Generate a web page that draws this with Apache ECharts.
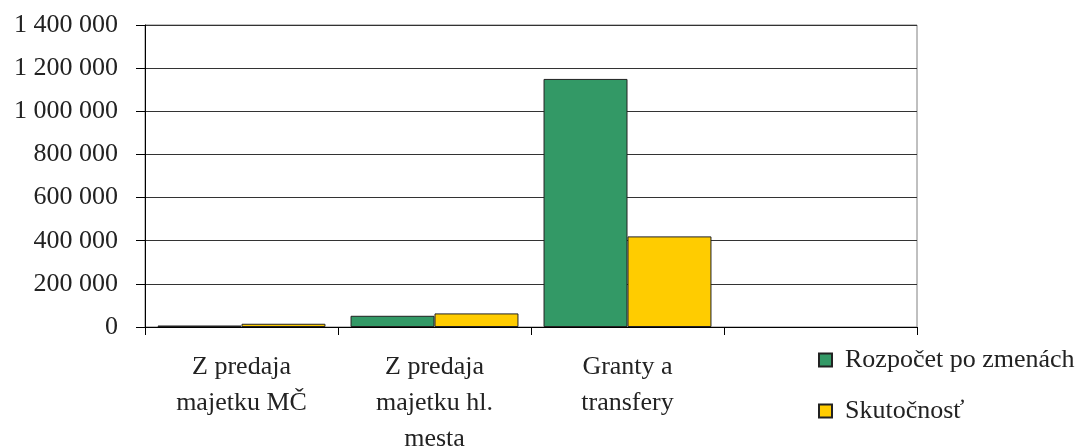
<!DOCTYPE html>
<html>
<head>
<meta charset="utf-8">
<script src="https://cdn.jsdelivr.net/npm/echarts@6/dist/echarts.min.js"></script>
<style>
html,body{margin:0;padding:0;background:#fff;}
#chart{width:1088px;height:448px;}
</style>
</head>
<body>
<div id="chart"></div>
<script>
var categories = ['Z predaja\nmajetku MČ', 'Z predaja\nmajetku hl.\nmesta', 'Granty a\ntransfery', ''];
var seriesNames = ['Rozpočet po zmenách', 'Skutočnosť'];
var rozpocet = [7000, 52000, 1150000, null];
var skutocnost = [15000, 63000, 420000, null];
var yTicks = [0, 200000, 400000, 600000, 800000, 1000000, 1200000, 1400000];

var FONT = "'Liberation Serif', 'Times New Roman', serif";
function fmt(v){
  return String(v).replace(/\B(?=(\d{3})+(?!\d))/g, ' ');
}
var chart = echarts.init(document.getElementById('chart'), null, {renderer:'canvas'});
chart.setOption({
  animation:false,
  backgroundColor:'#ffffff',
  textStyle:{fontFamily:FONT},
  grid:{left:145, right:171, top:25, bottom:121, containLabel:false, outerBoundsMode:'none',
        show:true, borderColor:'#808080', borderWidth:1, backgroundColor:'transparent'},
  legend:{
    orient:'vertical', left:818, top:347, padding:0,
    itemWidth:13, itemHeight:13, itemGap:25,
    icon:'rect',
    data:seriesNames,
    textStyle:{fontFamily:FONT, fontSize:26, color:'#222', padding:[0,0,0,8]}
  },
  xAxis:{
    type:'category', data:categories,
    axisLine:{lineStyle:{color:'#000', width:1}},
    axisTick:{show:true, length:8, lineStyle:{color:'#000'}},
    axisLabel:{fontFamily:FONT, fontSize:26, color:'#222', lineHeight:36, margin:22, interval:0}
  },
  yAxis:{
    type:'value', min:yTicks[0], max:yTicks[yTicks.length-1], interval:yTicks[1]-yTicks[0],
    axisLine:{show:true, lineStyle:{color:'#000', width:1}},
    axisTick:{show:true, length:9, lineStyle:{color:'#000'}},
    axisLabel:{fontFamily:FONT, fontSize:26, color:'#222', margin:27, formatter:fmt},
    splitLine:{show:true, lineStyle:{color:'#333', width:1}}
  },
  series:[
    {name:seriesNames[0], type:'bar', data:rozpocet, barGap:'0%', barCategoryGap:'13%',
     itemStyle:{color:'#339966', borderColor:'#222', borderWidth:1}},
    {name:seriesNames[1], type:'bar', data:skutocnost,
     itemStyle:{color:'#FFCC00', borderColor:'#222', borderWidth:1}}
  ]
});
</script>
</body>
</html>
